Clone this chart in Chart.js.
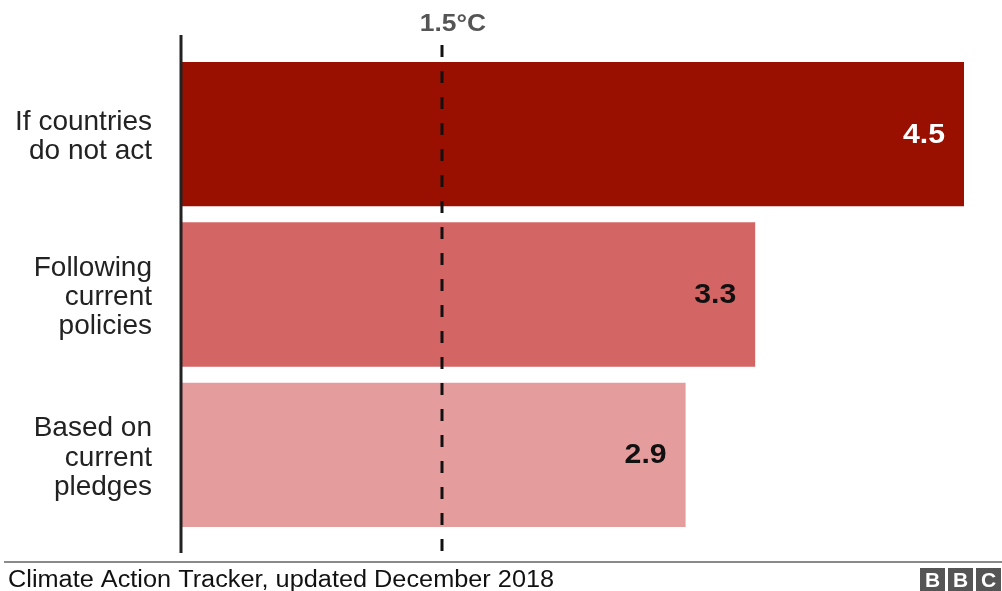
<!DOCTYPE html>
<html>
<head>
<meta charset="utf-8">
<script src="https://cdn.jsdelivr.net/npm/chart.js@4/dist/chart.umd.min.js"></script>
<style>
  html, body { margin: 0; padding: 0; background: #fff; }
  #wrap { width: 1002px; height: 591px; position: relative; }
</style>
</head>
<body>
<div id="wrap"><canvas id="chart"></canvas></div>
<script>
// Projected warming by 2100 (°C) under three scenarios
const categories = [
  ['If countries', 'do not act'],
  ['Following', 'current', 'policies'],
  ['Based on', 'current', 'pledges']
];
const warming = [4.5, 3.3, 2.9];
const barColors = ['#990F00', '#D36565', '#E59C9D'];
const labelColors = ['#ffffff', '#111111', '#111111'];
const targetValue = 1.5;
const targetLabel = '1.5°C';
const sourceText = 'Climate Action Tracker, updated December 2018';

const FONT = '"Liberation Sans", Arial, Helvetica, sans-serif';

// draw text slightly widened horizontally
function wideText(ctx, text, x, y, sx) {
  ctx.save();
  ctx.translate(x, y);
  ctx.scale(sx, 1);
  ctx.fillText(text, 0, 0);
  ctx.restore();
}

// Vertical zero line, dashed target line, value labels, header and footer
const decorations = {
  id: 'decorations',
  afterDatasetsDraw(chart) {
    const { ctx } = chart;
    const xs = chart.scales.x;
    const x0 = xs.getPixelForValue(0);
    const xt = xs.getPixelForValue(targetValue);

    ctx.save();
    // value labels inside bar ends
    const meta = chart.getDatasetMeta(0);
    ctx.font = 'bold 27px ' + FONT;
    ctx.textAlign = 'right';
    ctx.textBaseline = 'middle';
    meta.data.forEach((bar, i) => {
      ctx.fillStyle = labelColors[i];
      wideText(ctx, warming[i].toFixed(1), bar.x - 19, bar.y + 1, 1.12);
    });

    // zero axis line
    ctx.strokeStyle = '#222';
    ctx.lineWidth = 3;
    ctx.beginPath();
    ctx.moveTo(x0, 35);
    ctx.lineTo(x0, 553);
    ctx.stroke();

    // dashed target line
    ctx.strokeStyle = '#111';
    ctx.lineWidth = 3;
    ctx.setLineDash([12, 14]);
    ctx.beginPath();
    ctx.moveTo(xt, 45);
    ctx.lineTo(xt, 553);
    ctx.stroke();
    ctx.setLineDash([]);

    // target label
    ctx.fillStyle = '#555';
    ctx.font = 'bold 24px ' + FONT;
    ctx.textAlign = 'center';
    ctx.textBaseline = 'alphabetic';
    wideText(ctx, targetLabel, xt + 11, 31, 1.1);

    // footer rule
    ctx.strokeStyle = '#8a8a8a';
    ctx.lineWidth = 2;
    ctx.beginPath();
    ctx.moveTo(4, 562);
    ctx.lineTo(1002, 562);
    ctx.stroke();

    // source text
    ctx.fillStyle = '#111';
    ctx.font = '23px ' + FONT;
    ctx.textAlign = 'left';
    wideText(ctx, sourceText, 8, 587, 1.1);

    // BBC blocks
    const letters = ['B', 'B', 'C'];
    ctx.font = 'bold 21px ' + FONT;
    ctx.textAlign = 'center';
    ctx.textBaseline = 'middle';
    letters.forEach((l, i) => {
      const bx = 920 + i * 28;
      ctx.fillStyle = '#555';
      ctx.fillRect(bx, 568, 25, 24);
      ctx.fillStyle = '#fff';
      ctx.fillText(l, bx + 12.5, 581);
    });
    ctx.restore();
  }
};

new Chart(document.getElementById('chart'), {
  type: 'bar',
  data: {
    labels: categories,
    datasets: [{
      data: warming,
      backgroundColor: barColors,
      borderWidth: 0,
      barPercentage: 0.9,
      categoryPercentage: 1.0
    }]
  },
  options: {
    indexAxis: 'y',
    responsive: true,
    maintainAspectRatio: false,
    animation: false,
    layout: { padding: { top: 54, bottom: 56, left: 0, right: 38 } },
    plugins: {
      legend: { display: false },
      tooltip: { enabled: false },
      title: { display: false }
    },
    scales: {
      x: {
        display: false,
        min: 0,
        max: 4.5
      },
      y: {
        afterFit(scale) {
          scale.width = 181;
          scale.paddingTop = 0;
          scale.paddingBottom = 0;
        },
        grid: { display: false, drawTicks: false },
        border: { display: false },
        ticks: {
          padding: 29,
          labelOffset: 3,
          color: '#222',
          font: { family: FONT, size: 28, lineHeight: 1.04 }
        }
      }
    }
  },
  plugins: [decorations]
});
</script>
</body>
</html>
